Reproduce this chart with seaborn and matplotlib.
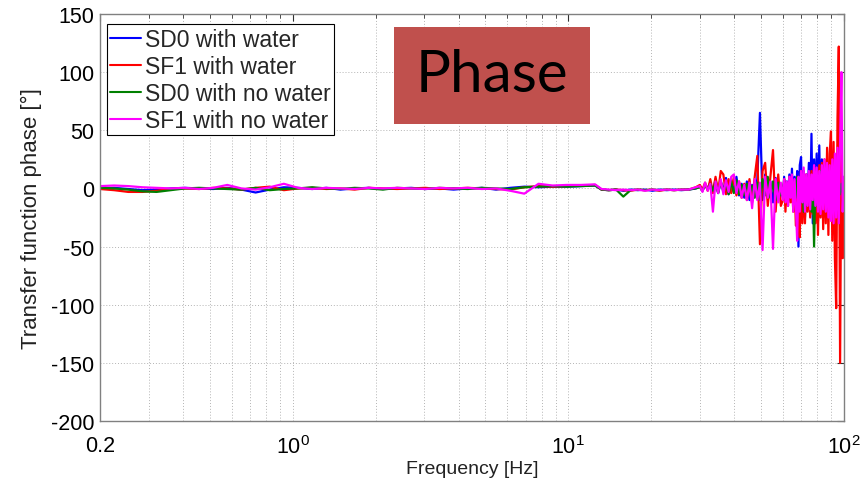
import numpy as np
import pandas as pd
import matplotlib
matplotlib.use("Agg")
import matplotlib.pyplot as plt
from matplotlib.ticker import FixedLocator, FixedFormatter, NullFormatter
from matplotlib.patches import Rectangle
import seaborn as sns

# Frequency sampling grid (Hz): coarse below 13 Hz, denser in the noisy band
freq = np.concatenate([
    np.geomspace(0.2, 12.5, 36),
    np.geomspace(13.2, 29, 14),
    np.geomspace(30, 59, 32),
    np.geomspace(60, 100, 48),
])

series_names = ["SD0 with water", "SF1 with water", "SD0 with no water", "SF1 with no water"]
series_colors = ["#0000FF", "#FF0000", "#008000", "#FF00FF"]

# Transfer function phase [deg]
sd0_water = [
    0, 0.5, -0.5, -1.5, -1, 0, 0.5, 0, -0.5, 0.5, -1, -3.5, -1, 1, 0.5, -0.5, 0.5, -1,
    0, 0.5, -0.5, 0, 0.5, -0.5, 0, -1, 0, 0.5, -1, 0.5, 1.5, 1, 1.5, 1.5, 2, 2.5,
    -1, -1.5, -1, -2, -1, -1.5, -1, -2, -1, -1.5, -1, -1.5, -1, 0,
    2, -2, 3, 0, 5, -3, 8, -4, 6, -2, 9, -5, 7, -3, 10, -6, 4, -8, 6, -10, 3, -6, 8, 65,
    -10, 12, -8, 6, -12, 9, -6, 4,
    -8, 10, -12, 6, -6, 12, -10, 17, -15, 10, -12, 15, -50, 20, 27, -18, 15, -25, 12, -10,
    22, -20, 47, -30, 25, -15, 30, -28, 37, -20, 25, -15, 20, -25, 15, -10, 12, -18, 10, -15,
    8, -20, 15, -10, 25, -15, 10, -23,
]
sf1_water = [
    -0.5, -1.5, -3, -3, -2, -0.5, 0, -0.5, 0.5, 0, -1, 0.5, 1.5, -1.5, 0, 0.5, -0.5, 0,
    -1, 0.5, 0, -0.5, 0, 0.5, -0.5, 0, 0.5, 0, -0.5, -1, 1, 2, 1.5, 2, 2.5, 3,
    -1, -1.5, -1, -1.5, -2, -1, -1.5, -1, -2, -1, -1.5, -1, -1, 1,
    3, -1, 5, -2, 8, -4, 10, -3, 15, 12, -5, 8, -4, 10, -6, 6, -8, 4, -10, 8, -12, 10, 28, -48,
    15, 22, -15, 10, 33, -20, 12, -15,
    -10, 8, -20, 5, -15, 10, -12, 8, -20, 6, -32, 10, -25, -42, 15, -30, 8, -30, 12, -20,
    10, -25, 15, -22, 18, -30, 15, -40, 20, -25, 22, -35, 25, -30, 35, -40, 30, 49, -45, 40,
    -60, -103, 60, 122, -150, 50, -60, -10,
]
sd0_nowater = [
    0.5, 0, -1, -2.5, -3, -1.5, 0, 0.5, 0, -0.5, -1, 0.5, -1.5, -0.5, 0, 1, 0, -0.5,
    0.5, 0, -1, 0.5, 0, -0.5, 0.5, 0, -0.5, 0.5, 0, -0.5, 1, 1.5, 2, 1.5, 2, 2.5,
    -1, -1.5, -1, -7, -1.5, -1, -1.5, -1, -1.5, -1, -1.5, -1, -1, 0,
    1, -2, 3, -1, 4, -2, 5, -4, 6, -3, 5, -5, 6, -4, 7, -5, 3, -6, 4, -5, 2, -8, 5, -10,
    8, -6, 10, -8, 6, -10, 5, -6,
    -5, 6, -8, 4, -10, 8, -6, 5, -10, 6, -8, 10, -15, 8, -12, 6, -20, 5, -15, 10,
    -12, 8, -20, 6, -50, 10, -15, 12, -10, 15, -8, 10, -12, 8, -15, 10, -10, 8, -12, 6,
    -10, 5, -8, 6, -5, 4, -3, -6,
]
sf1_nowater = [
    2, 2.5, 2, 1, 0.5, 0, 0.5, -0.5, 0.5, 3, 0, -1, 1, 4, 0.5, -0.5, 0.5, 0,
    -0.5, 0.5, 0, 0.5, 0, -0.5, 0.5, 0, 0.5, -0.5, 0, -2, -4.5, 4, 2.5, 3, 3, 3.5,
    -0.5, -1, -1.5, -1, -1.5, -1, -2, -1, -1.5, -1, -1.5, -1, -1, 1,
    2, -3, 5, -2, 4, -20, 6, -4, 8, -5, 7, -3, 10, 12, -4, 6, -8, 3, -10, 5, -17, 8, -10, 5,
    -53, 10, -8, 6, -52, 8, -12, 5,
    -10, 8, -12, 6, -15, 10, -8, 12, -20, 8, -15, -45, 10, -20, 15, -12, 18, -20, 12, -15,
    15, -18, 12, -10, 20, -15, 18, -20, 15, -22, 20, -18, 25, -20, 22, -25, 20, -28, 25, -30,
    30, -25, 35, -30, 40, 100, -20, 10,
]

y_ticks = [-200, -150, -100, -50, 0, 50, 100, 150]
x_major = [0.2, 1, 10, 100]
x_major_labels = ["0.2", r"$\mathregular{10^{0}}$", r"$\mathregular{10^{1}}$", r"$\mathregular{10^{2}}$"]
x_minor = [0.3, 0.4, 0.5, 0.6, 0.7, 0.8, 0.9, 2, 3, 4, 5, 6, 7, 8, 9,
           20, 30, 40, 50, 60, 70, 80, 90]

frames = []
for name, vals in zip(series_names, [sd0_water, sf1_water, sd0_nowater, sf1_nowater]):
    frames.append(pd.DataFrame({"Frequency": freq, "Phase": vals, "Series": name}))
df = pd.concat(frames, ignore_index=True)

sns.set_theme(style="white")
plt.rcParams["font.family"] = ["Liberation Sans", "DejaVu Sans"]
plt.rcParams["axes.unicode_minus"] = False
plt.rcParams["mathtext.fontset"] = "custom"
plt.rcParams["mathtext.rm"] = "Liberation Sans"

fig = plt.figure(figsize=(8.66, 4.81), dpi=100)
ax = fig.add_axes([100 / 866, 1 - 422 / 481, 744 / 866, 407 / 481])

sns.lineplot(data=df, x="Frequency", y="Phase", hue="Series", hue_order=series_names,
             palette=dict(zip(series_names, series_colors)), estimator=None, sort=False,
             linewidth=1.6, ax=ax)

ax.set_xscale("log")
ax.set_xlim(0.2, 100)
ax.set_ylim(-200, 150)
ax.xaxis.set_major_locator(FixedLocator(x_major))
ax.xaxis.set_major_formatter(FixedFormatter(x_major_labels))
ax.xaxis.set_minor_locator(FixedLocator(x_minor))
ax.xaxis.set_minor_formatter(NullFormatter())
ax.set_yticks(y_ticks)
ax.set_yticklabels([str(v) for v in y_ticks])

grid_kw = dict(color="#b4b4b4", linestyle=(0, (1, 2)), linewidth=0.7)
ax.grid(True, which="major", axis="both", **grid_kw)
ax.grid(True, which="minor", axis="x", **grid_kw)

ax.tick_params(which="both", direction="in", top=True, right=True, color="#303030")
ax.tick_params(which="major", length=5, width=0.8, labelsize=15.5, labelcolor="black")
ax.tick_params(axis="y", which="major", pad=4)
ax.tick_params(axis="x", which="major", pad=10)
ax.tick_params(which="minor", length=3, width=0.6)
for sp in ax.spines.values():
    sp.set_color("#808080")
    sp.set_linewidth(1.0)

ax.set_xlabel("Frequency [Hz]", fontsize=14, color="#222222")
ax.set_ylabel("Transfer function phase [°]", fontsize=16, color="#222222")
ax.xaxis.set_label_coords(0.5, -0.095)
ax.yaxis.set_label_coords(-0.078, 0.5)

handles, labels = ax.get_legend_handles_labels()
leg = ax.legend(handles, labels, loc="upper left", bbox_to_anchor=(0.0094, 0.975),
                borderaxespad=0, fontsize=16.5, frameon=True, fancybox=False,
                handlelength=1.35, handletextpad=0.15, labelspacing=0.18,
                borderpad=0.15, framealpha=1)
leg.get_frame().set_edgecolor("black")
leg.get_frame().set_linewidth(0.8)
for line in leg.get_lines():
    line.set_linewidth(1.5)

# Title card
fig.patches.append(Rectangle((394 / 866, 1 - 125 / 481), 196 / 866, 97 / 481,
                             transform=fig.transFigure, facecolor="#C0504D",
                             edgecolor="none", zorder=5))
fig.text(492 / 866, 1 - 76 / 481, "Phase", fontsize=42, family=["Lato", "DejaVu Sans"],
         color="black", ha="center", va="center", zorder=6)

fig.savefig("out.png", dpi=100)
